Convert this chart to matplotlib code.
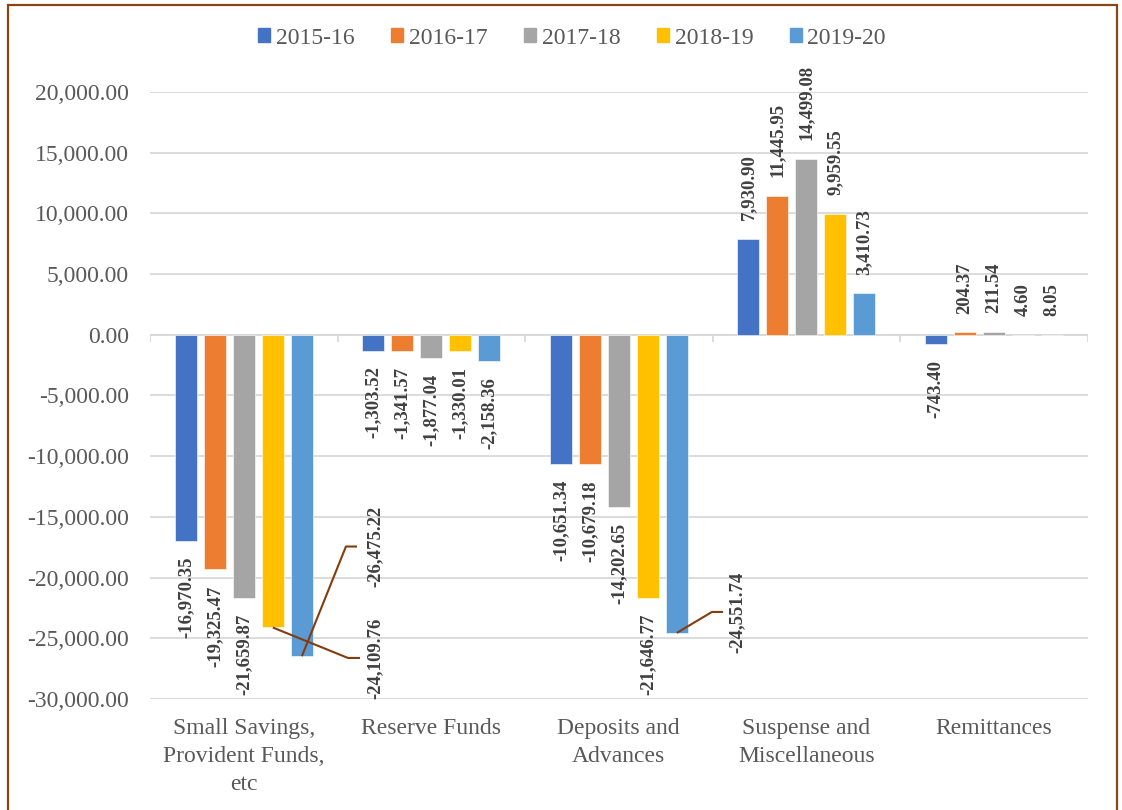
import matplotlib
matplotlib.use("Agg")
import matplotlib.pyplot as plt
from matplotlib.patches import Patch, Rectangle
from matplotlib.ticker import FuncFormatter, MultipleLocator

plt.rcParams['font.family'] = ['Liberation Serif', 'DejaVu Serif']

categories = ['Small Savings,\nProvident Funds,\netc', 'Reserve Funds',
              'Deposits and\nAdvances', 'Suspense and\nMiscellaneous', 'Remittances']
years = ['2015-16', '2016-17', '2017-18', '2018-19', '2019-20']

v_2015_16 = [-16970.35, -1303.52, -10651.34, 7930.90, -743.40]
v_2016_17 = [-19325.47, -1341.57, -10679.18, 11445.95, 204.37]
v_2017_18 = [-21659.87, -1877.04, -14202.65, 14499.08, 211.54]
v_2018_19 = [-24109.76, -1330.01, -21646.77, 9959.55, 4.60]
v_2019_20 = [-26475.22, -2158.36, -24551.74, 3410.73, 8.05]
series = [v_2015_16, v_2016_17, v_2017_18, v_2018_19, v_2019_20]

COLORS = ['#4472C4', '#ED7D31', '#A5A5A5', '#FFC000', '#5B9BD5']
TICK_COL = '#595959'
LABEL_COL = '#404040'
GRID_COL = '#D9D9D9'
LEADER_COL = '#843C0C'
STEP, WIDTH = 0.155, 0.118

# labels dragged off their bars: (category, series) -> (label x, label y, elbow x, line end x)
MOVED = {
    (0, 3): (0.70, -26620, 0.556, 0.620),
    (0, 4): (0.70, -17440, 0.545, 0.604),
    (2, 4): (2.631, -22830, 2.497, 2.556),
}

fig = plt.figure(figsize=(11.22, 8.10), dpi=100)
ax = fig.add_axes([150 / 1122, 1 - 699 / 810, (1087.5 - 150) / 1122, (699 - 92) / 810])

for j, vals in enumerate(series):
    xs = [i + (j - 2) * STEP for i in range(len(categories))]
    ax.bar(xs, vals, WIDTH, color=COLORS[j], edgecolor='white', linewidth=0.4,
           label=years[j], zorder=3)
    for i, (x, v) in enumerate(zip(xs, vals)):
        txt = f'{v:,.2f}'
        if (i, j) in MOVED:
            lx, ly, ex, endx = MOVED[(i, j)]
            ax.text(lx, ly, txt, rotation=90, ha='center', va='center',
                    fontsize=13.5, fontweight='bold', color=LABEL_COL, zorder=5)
            ax.plot([x, ex, endx], [v, ly, ly], color=LEADER_COL, lw=1.5,
                    solid_capstyle='butt', zorder=6)
            continue
        off = 13.5 if v >= 0 else -11.5
        ax.annotate(txt, (x, v), xytext=(0, off), textcoords='offset points',
                    rotation=90, ha='center', va='bottom' if v >= 0 else 'top',
                    fontsize=13.5, fontweight='bold', color=LABEL_COL, zorder=5)

ax.set_xlim(-0.5, len(categories) - 0.5)
ax.set_ylim(-30000, 20000)
ax.yaxis.set_major_locator(MultipleLocator(5000))
ax.yaxis.set_major_formatter(FuncFormatter(lambda v, p: f'{v:,.2f}'))
ax.grid(axis='y', color=GRID_COL, lw=1.3, zorder=0)
ax.set_axisbelow(True)
for s in ax.spines.values():
    s.set_visible(False)

# horizontal axis at zero with category divider ticks
ax.axhline(0, color=GRID_COL, lw=1.3, zorder=2)
ax.vlines([b - 0.5 for b in range(len(categories) + 1)], -560, 0,
          color=GRID_COL, lw=1.3, zorder=2)

ax.set_xticks(range(len(categories)))
ax.set_xticklabels(categories, linespacing=1.42)
ax.tick_params(axis='x', length=0, pad=14, labelsize=17, labelcolor=TICK_COL)
ax.tick_params(axis='y', length=0, pad=15, labelsize=17, labelcolor=TICK_COL)

handles = [Patch(color=c, label=y) for c, y in zip(COLORS, years)]
fig.legend(handles=handles, loc='center', bbox_to_anchor=(572 / 1122, 1 - 38 / 810),
           ncol=5, frameon=False, fontsize=17, labelcolor=TICK_COL,
           handlelength=0.5, handleheight=0.5, handletextpad=0.25,
           columnspacing=1.55, borderpad=0)

fig.patches.append(Rectangle((8 / 1122, -0.05), (1117 - 8) / 1122, 1.05 - 5 / 810,
                             transform=fig.transFigure, fill=False,
                             edgecolor='#8B4513', lw=1.6, zorder=10))

fig.savefig('out.png', dpi=100, facecolor='white')
